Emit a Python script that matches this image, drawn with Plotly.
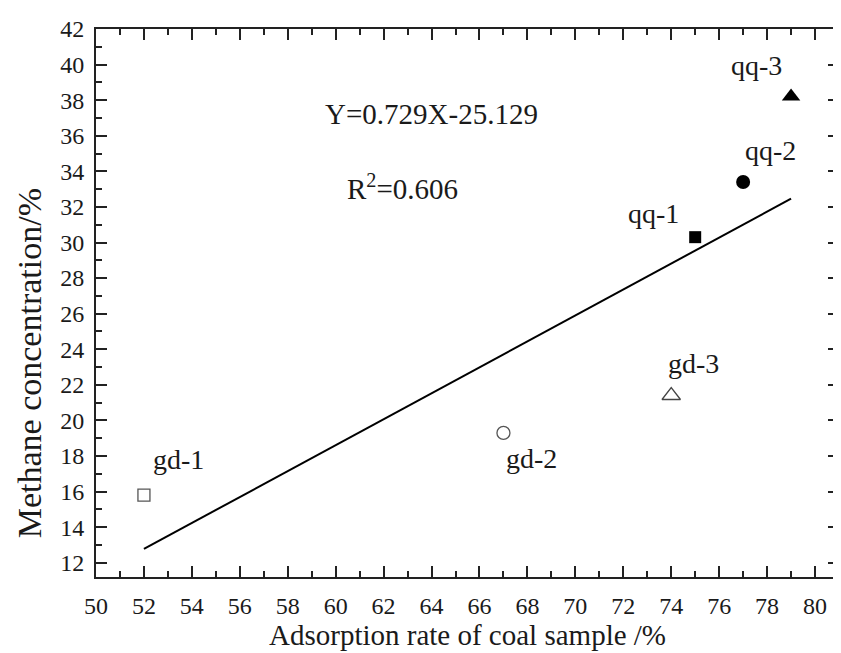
import plotly.graph_objects as go

# data
sample_names = ["gd-1", "gd-2", "gd-3", "qq-1", "qq-2", "qq-3"]
adsorption_rate = [52, 67, 74, 75, 77, 79]
methane_conc = [15.8, 19.3, 21.4, 30.3, 33.4, 38.2]
slope = 0.729
intercept = -25.129
r_squared = 0.606
fit_x = [52, 79]
x_ticks = list(range(50, 81, 2))
y_ticks = list(range(12, 43, 2))

FONT = "Liberation Serif"
TXT = "#1a1a1a"
markers = {
    "gd-1": dict(symbol="square-open", size=12, color="#555", line=dict(width=1.3, color="#555")),
    "gd-2": dict(symbol="circle-open", size=13, color="#555", line=dict(width=1.3, color="#555")),
    "gd-3": dict(symbol="triangle-up-open", size=16, color="#444", line=dict(width=1.3, color="#444")),
    "qq-1": dict(symbol="square", size=12, color="black"),
    "qq-2": dict(symbol="circle", size=14, color="black"),
    "qq-3": dict(symbol="triangle-up", size=16, color="black"),
}
label_shift = {
    "gd-1": (35, 36), "gd-2": (28, -26), "gd-3": (22, 32),
    "qq-1": (-42, 24), "qq-2": (27, 32), "qq-3": (-35, 31),
}

fig = go.Figure()
fit_y = [slope * x + intercept for x in fit_x]
fig.add_trace(go.Scatter(x=fit_x, y=fit_y, mode="lines",
                         line=dict(color="black", width=2), showlegend=False))
for name, xv, yv in zip(sample_names, adsorption_rate, methane_conc):
    fig.add_trace(go.Scatter(x=[xv], y=[yv], mode="markers", marker=markers[name],
                             showlegend=False))

annotations = []
for name, xv, yv in zip(sample_names, adsorption_rate, methane_conc):
    dx, dy = label_shift[name]
    annotations.append(dict(x=xv, y=yv, xref="x", yref="y", text=name, showarrow=False,
                            xshift=dx, yshift=dy, font=dict(family=FONT, size=28, color=TXT)))
annotations.append(dict(x=64.0, y=37.2, xref="x", yref="y",
                        text=f"Y={slope}X{intercept}", showarrow=False,
                        font=dict(family=FONT, size=29, color=TXT)))
annotations.append(dict(x=62.8, y=33.1, xref="x", yref="y",
                        text=f"R<sup>2</sup>={r_squared}", showarrow=False,
                        font=dict(family=FONT, size=29, color=TXT)))
# axis titles
annotations.append(dict(x=0.5, y=0, xref="paper", yref="paper", yshift=-58,
                        xanchor="center", yanchor="middle",
                        text="Adsorption rate of coal sample /%", showarrow=False,
                        font=dict(family=FONT, size=29, color=TXT)))
annotations.append(dict(x=0, y=0.39, xref="paper", yref="paper", xshift=-67,
                        xanchor="center", yanchor="middle", textangle=-90,
                        text="Methane concentration/%", showarrow=False,
                        font=dict(family=FONT, size=34, color=TXT)))

axis_common = dict(
    showline=True, linecolor="#222", linewidth=2, mirror="allticks",
    ticks="inside", ticklen=11, tickwidth=1.5, tickcolor="#222",
    showgrid=False, zeroline=False,
    tickfont=dict(family=FONT, size=24, color=TXT),
)
minor_common = dict(ticks="inside", ticklen=6, tickwidth=1.5, tickcolor="#222", showgrid=False)

fig.update_layout(
    width=841, height=653,
    margin=dict(l=88, r=8, t=21, b=84),
    plot_bgcolor="white", paper_bgcolor="white",
    annotations=annotations,
    xaxis=dict(range=[50, 81], tickmode="array", tickvals=x_ticks, ticklabelstandoff=6,
               minor=dict(minor_common, dtick=1, tick0=50), **axis_common),
    yaxis=dict(range=[11.2, 42], tickmode="array", tickvals=y_ticks, ticklabelstandoff=5,
               minor=dict(minor_common, dtick=1, tick0=12), **axis_common),
)

fig.write_html("out.html")
